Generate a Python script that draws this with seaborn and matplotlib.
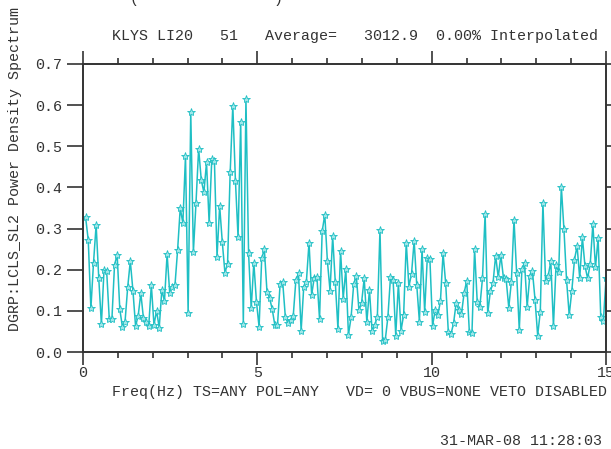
import numpy as np
import pandas as pd
import matplotlib
matplotlib.use("Agg")
import matplotlib.pyplot as plt
import seaborn as sns
from matplotlib.ticker import MultipleLocator, FormatStrFormatter

sns.set_style("white")
plt.rcParams["font.family"] = ["Liberation Mono", "DejaVu Sans Mono"]

title_text = "KLYS LI20   51   Average=   3012.9  0.00% Interpolated"
xlabel_text = "Freq(Hz) TS=ANY POL=ANY   VD= 0 VBUS=NONE VETO DISABLED"
ylabel_text = "DGRP:LCLS_SL2 Power Density Spectrum"
stamp_text = "31-MAR-08 11:28:03"

f_max = 15.0
power = [
    0.327, 0.272, 0.106, 0.217, 0.309, 0.179, 0.067, 0.200, 0.197, 0.080,
    0.080, 0.212, 0.236, 0.104, 0.061, 0.074, 0.157, 0.221, 0.149, 0.063,
    0.088, 0.143, 0.082, 0.072, 0.062, 0.163, 0.066, 0.100, 0.059, 0.151,
    0.124, 0.238, 0.143, 0.159, 0.163, 0.248, 0.350, 0.313, 0.477, 0.096,
    0.583, 0.243, 0.363, 0.494, 0.418, 0.388, 0.461, 0.313, 0.469, 0.465,
    0.232, 0.355, 0.267, 0.193, 0.214, 0.437, 0.599, 0.416, 0.279, 0.560,
    0.068, 0.616, 0.240, 0.106, 0.217, 0.122, 0.061, 0.228, 0.250, 0.147,
    0.131, 0.104, 0.065, 0.065, 0.165, 0.169, 0.084, 0.070,
    0.078, 0.088, 0.175, 0.191, 0.052, 0.159, 0.171, 0.266, 0.139, 0.181,
    0.183, 0.080, 0.293, 0.334, 0.220, 0.149, 0.281, 0.170, 0.057, 0.246,
    0.130, 0.201, 0.042, 0.084, 0.165, 0.185, 0.101, 0.120, 0.179, 0.073,
    0.151, 0.050, 0.065, 0.086, 0.297, 0.026, 0.029, 0.084, 0.182, 0.174,
    0.040,
    0.167, 0.052, 0.090, 0.266, 0.159, 0.190, 0.270, 0.162, 0.074, 0.250,
    0.098, 0.228, 0.225, 0.064, 0.102, 0.090, 0.123, 0.240, 0.167, 0.049,
    0.043, 0.070, 0.120, 0.102, 0.092, 0.143, 0.173, 0.049, 0.047, 0.250,
    0.122, 0.110, 0.179, 0.336, 0.094, 0.148, 0.167, 0.234, 0.182, 0.235,
    0.179, 0.177, 0.108, 0.171, 0.321, 0.191, 0.054, 0.201, 0.217, 0.110,
    0.185, 0.197, 0.127, 0.040, 0.098, 0.363, 0.173, 0.185, 0.220, 0.063,
    0.212, 0.195, 0.402, 0.298, 0.174, 0.090, 0.149, 0.224, 0.258, 0.179,
    0.279, 0.209, 0.179, 0.214, 0.311, 0.206, 0.277, 0.086, 0.075, 0.179,
]
n_bins = len(power)
freq = np.arange(1, n_bins + 1) * f_max / n_bins

df = pd.DataFrame({"freq": freq, "power": power})

W, H = 611, 449
fig = plt.figure(figsize=(W / 100, H / 100), dpi=100)
ax = fig.add_axes([83 / W, 1 - 352 / H, (606 - 83) / W, (352 - 64) / H])

line_color = "#1fbfc4"
sns.lineplot(data=df, x="freq", y="power", ax=ax, color=line_color,
             linewidth=1.1, marker="*", markersize=6,
             markerfacecolor="#9fe6e8", markeredgecolor=line_color,
             markeredgewidth=0.6)

ax.set_xlim(0, 15)
ax.set_ylim(0, 0.7)
ax.set_xlabel("")
ax.set_ylabel("")

spine_color = "#333333"
for s in ax.spines.values():
    s.set_visible(True)
    s.set_color(spine_color)
    s.set_linewidth(1.4)

ax.xaxis.set_major_locator(MultipleLocator(5))
ax.xaxis.set_minor_locator(MultipleLocator(1))
ax.yaxis.set_major_locator(MultipleLocator(0.1))
ax.yaxis.set_major_formatter(FormatStrFormatter("%.1f"))

ax.tick_params(axis="x", which="major", direction="out", length=9.4, width=1.2,
               color=spine_color, top=True, bottom=True, labelsize=10.8,
               labelcolor="#333333", pad=1)
ax.tick_params(axis="x", which="minor", direction="out", length=4, width=1.2,
               color=spine_color, top=True, bottom=True)
ax.tick_params(axis="y", which="major", direction="out", length=11.5, width=1.2,
               color=spine_color, left=True, right=True, labelsize=10.8,
               labelcolor="#333333", pad=3.5)

text_kw = dict(fontsize=10.8, color="#333333")
fig.text(112 / W, 1 - 36 / H, title_text, ha="left", va="center", **text_kw)
fig.text(130 / W, 1 - 3.5 / H, "(" + " " * 15 + ")", ha="left",
         va="baseline", **text_kw)
fig.text(112 / W, 1 - 392 / H, xlabel_text, ha="left", va="center", **text_kw)
fig.text(440 / W, 1 - 441 / H, stamp_text, ha="left", va="center", **text_kw)
fig.text(15 / W, 1 - 169 / H, ylabel_text, ha="center", va="center",
         rotation=90, **text_kw)

fig.savefig("out.png", dpi=100, facecolor="white")
